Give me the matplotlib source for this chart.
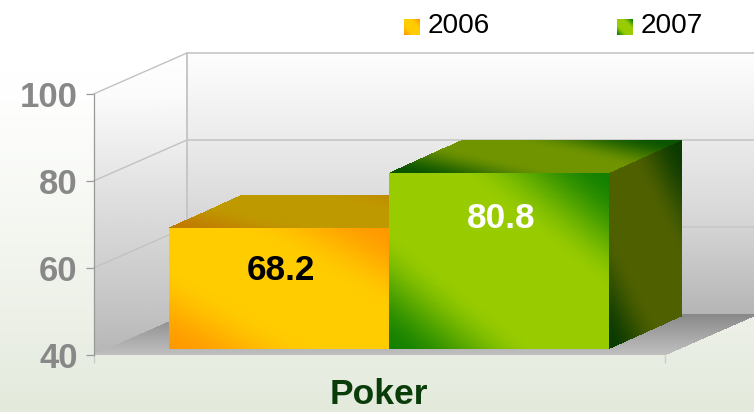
import numpy as np
import matplotlib
matplotlib.use('Agg')
import matplotlib.pyplot as plt
from matplotlib.colors import to_rgb

categories = ['Poker']
years = ['2006', '2007']
values = [68.2, 80.8]
y_ticks = [40, 60, 80, 100]

plt.rcParams['font.family'] = ['Liberation Sans', 'DejaVu Sans']

W, H = 754, 412
AX_L, AX_R, AX_T, AX_B = 93.5, 665, 94, 355
PX_X = AX_R - AX_L
PX_Y = (AX_B - AX_T) / 60.0
DEPTH = (93.5, 41)

fig = plt.figure(figsize=(W / 100, H / 100), dpi=100)

# background, in pixels
bg = fig.add_axes([0, 0, 1, 1], zorder=0)
bg.axis('off')
stops_y = [0, 70, 130, 206, 280, 355, 412]
stops_c = np.array([to_rgb(c) for c in ['#ffffff', '#ffffff', '#fcfdfb', '#f6f8f3', '#f0f3eb', '#e9eee4', '#e3eadb']])
yy = np.linspace(0, H, 207)
bg_c = np.stack([np.interp(yy, stops_y, stops_c[:, i]) for i in range(3)], axis=1)
bg.imshow(bg_c[:, None, :], extent=(0, W, H, 0), aspect='auto', interpolation='bilinear')
bg.set_xlim(0, W)
bg.set_ylim(H, 0)

ax = fig.add_axes([AX_L / W, 1 - AX_B / H, PX_X / W, (AX_B - AX_T) / H], zorder=1)
ax.patch.set_visible(False)
ax.set_xlim(-0.5, 0.5)
ax.set_ylim(40, 100)


def dx(p):
    return p / PX_X


def dy(p):
    return p / PX_Y


def y_pixel(v):
    return AX_B - (v - 40) * PX_Y


def diag(edge, mid, start=0.3, end=1.0):
    edge, mid = np.array(to_rgb(edge)), np.array(to_rgb(mid))

    def fn(u, v, y):
        t = np.clip((np.abs(u + v - 1) - start) / (end - start), 0, 1)[..., None]
        t = t * t * (3 - 2 * t)
        return mid * (1 - t) + edge * t
    return fn


def vert(ys, cols):
    cols = np.array([to_rgb(c) for c in cols])

    def fn(u, v, y):
        return np.stack([np.interp(y_pixel(y), ys, cols[:, i]) for i in range(3)], axis=-1)
    return fn


def face(target, o, e1, e2, fn, zorder, nu=150, nv=100):
    u, v = np.meshgrid(np.linspace(0, 1, nu + 1), np.linspace(0, 1, nv + 1))
    X = o[0] + u * e1[0] + v * e2[0]
    Y = o[1] + u * e1[1] + v * e2[1]
    uc = (u[:-1, :-1] + u[1:, 1:]) / 2
    vc = (v[:-1, :-1] + v[1:, 1:]) / 2
    yc = o[1] + uc * e1[1] + vc * e2[1]
    target.pcolormesh(X, Y, fn(uc, vc, yc), shading='flat', clip_on=False, zorder=zorder, rasterized=True)


depth = (dx(DEPTH[0]), dy(DEPTH[1]))
wall_grad = vert([52, 135, 190, 226, 314], ['#fefefe', '#ececec', '#dedede', '#d4d4d4', '#b5b5b5'])
left_grad = vert([52, 94, 133, 190, 300, 355], ['#ffffff', '#fbfbfb', '#f1f1f1', '#e1e1e1', '#c6c6c6', '#b6b6b6'])
floor_grad = vert([314, 355], ['#888888', '#c0c0c0'])

# walls and floor
back_w = dx(W - AX_L - DEPTH[0])
face(ax, (-0.5 + depth[0], 40 + depth[1]), (back_w, 0), (0, 60), wall_grad, 1, nu=2, nv=260)
face(ax, (-0.5, 40), depth, (0, 60), left_grad, 1, nu=90, nv=260)
face(ax, (-0.5, 40), (1, 0), depth, floor_grad, 1.5, nu=2, nv=41)

for t in y_ticks[1:]:
    ax.plot([-0.5 + depth[0], 1.0], [t + depth[1]] * 2, color='#c9c9c9', lw=1.3, zorder=2, clip_on=False)
    ax.plot([-0.5, -0.5 + depth[0]], [t, t + depth[1]], color='#c2c2c2', lw=1.0, zorder=2, clip_on=False)
ax.plot([-0.5 + depth[0]] * 2, [40 + depth[1], 100 + depth[1]], color='#c6c6c6', lw=1.4, zorder=2, clip_on=False)

# bars
bar_w = 220 / PX_X
front = (dx(9.75), dy(4.6))
bar_depth = (dx(73), dy(33))
base = 40.3
front_c = [diag('#ff9900', '#ffcc00'), diag('#128000', '#99cc00')]
top_c = [diag('#c07a00', '#bf9900'), diag('#0a5400', '#709400', 0.2, 0.9)]
side_c = [diag('#a06000', '#a07000'), diag('#0a3a00', '#4f6000', 0.3, 0.95)]
label_c = ['black', 'white']
label_drop = [43, 46]

for i, val in enumerate(values):
    x0 = -bar_w + i * bar_w + front[0]
    y0 = base + front[1]
    h = val + front[1] - y0
    z = 3 + i
    face(ax, (x0 + bar_w, y0), bar_depth, (0, h), side_c[i], z)
    face(ax, (x0, y0 + h), (bar_w, 0), bar_depth, top_c[i], z)
    face(ax, (x0, y0), (bar_w, 0), (0, h), front_c[i], z + 0.5)
    ax.text(x0 + bar_w / 2 + dx(2), y0 + h - dy(label_drop[i]), '%.1f' % val, color=label_c[i], fontsize=25.3,
            fontweight='bold', ha='center', va='center', zorder=6)

for s in ax.spines.values():
    s.set_visible(False)
ax.spines['left'].set_visible(True)
ax.spines['left'].set_color('#999999')
ax.spines['left'].set_linewidth(0.9)
ax.set_yticks(y_ticks)
ax.set_yticklabels([str(t) for t in y_ticks], fontsize=25, fontweight='bold', color='#888888')
ax.tick_params(axis='y', length=6, width=0.9, color='#999999', pad=5.5)
ax.set_xticks([-0.5, 0.5])
ax.set_xticklabels(['', ''])
ax.tick_params(axis='x', length=6, width=1.0, color='#cccccc')
ax.set_xlabel(categories[0], fontsize=25.5, fontweight='bold', color='#0a3c0a', labelpad=7)

# legend
legend_x = [404, 617]
legend_c = [diag('#ff9900', '#ffcc00'), diag('#128000', '#99cc00')]
for x, name, fn in zip(legend_x, years, legend_c):
    face(bg, (x, 35), (16, 0), (0, -16), fn, 3, nu=16, nv=16)
    bg.text(x + 24, 26, name, fontsize=20.2, color='#000000', ha='left', va='center', zorder=4)

fig.savefig('out.png', dpi=100)
